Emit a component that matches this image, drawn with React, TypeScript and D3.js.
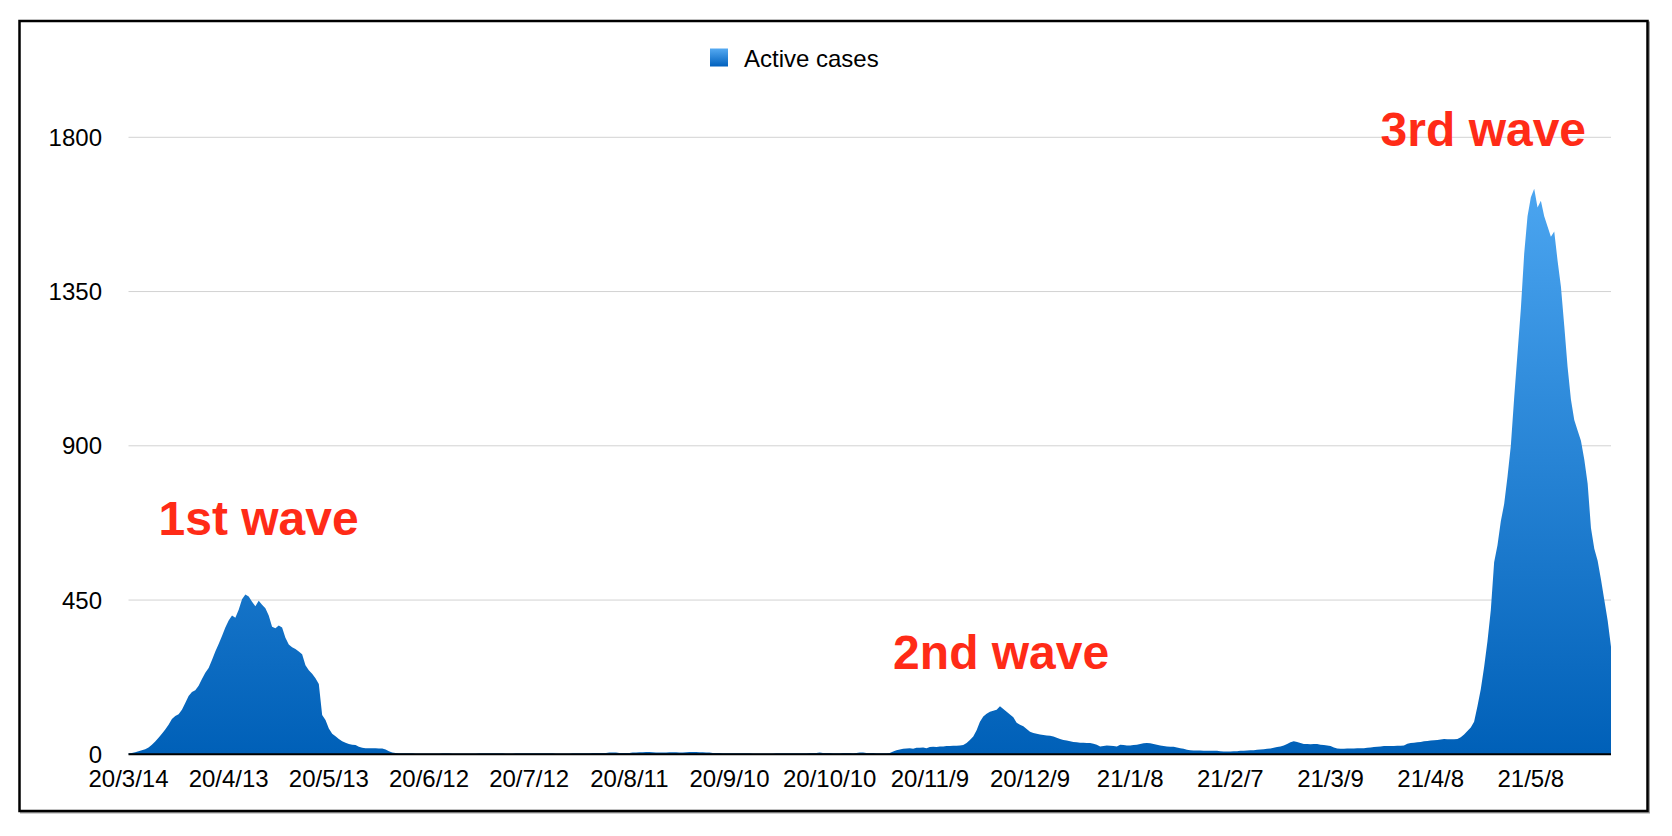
import React from 'react';
import * as d3 from 'd3';

// daily active cases, starting 2020-03-14
const startDate = '2020-03-14';
const activeCases: number[] = [
  2, 4, 6, 9, 12, 15, 20, 28, 37, 48,
  60, 72, 86, 103, 112, 117, 130, 150, 170, 182,
  187, 200, 220, 238, 252, 275, 300, 322, 345, 370,
  390, 405, 398, 422, 452, 466, 460, 445, 432, 448,
  436, 426, 405, 372, 368, 376, 370, 340, 320, 312,
  307, 300, 292, 260, 245, 235, 222, 205, 115, 100,
  75, 60, 53, 45, 38, 34, 30, 28, 27, 22,
  19, 18, 18, 18, 18, 17, 17, 14, 9, 5,
  4, 3, 3, 3, 3, 3, 2, 2, 2, 2,
  2, 2, 2, 2, 3, 3, 3, 2, 2, 2,
  2, 2, 2, 2, 2, 3, 3, 3, 3, 3,
  3, 3, 3, 2, 2, 2, 3, 3, 3, 3,
  3, 3, 3, 3, 3, 3, 3, 3, 2, 2,
  2, 2, 2, 3, 3, 3, 3, 3, 3, 4,
  4, 4, 4, 4, 5, 5, 5, 4, 4, 4,
  4, 5, 5, 6, 6, 7, 7, 6, 5, 5,
  5, 5, 6, 6, 6, 5, 5, 6, 7, 7,
  7, 6, 6, 5, 5, 4, 4, 4, 3, 3,
  3, 3, 3, 3, 3, 3, 3, 2, 2, 2,
  2, 2, 2, 2, 3, 3, 3, 3, 3, 3,
  3, 3, 3, 3, 4, 4, 4, 5, 4, 4,
  4, 3, 3, 3, 4, 4, 4, 3, 4, 5,
  5, 4, 4, 4, 3, 3, 3, 3, 4, 8,
  12, 14, 16, 17, 18, 16, 19, 19, 20, 18,
  21, 22, 21, 23, 23, 24, 24, 25, 25, 26,
  27, 33, 42, 52, 70, 95, 110, 118, 124, 127,
  130, 140, 132, 124, 116, 108, 92, 86, 82, 74,
  66, 62, 60, 58, 56, 55, 54, 52, 48, 45,
  42, 40, 38, 36, 35, 34, 34, 33, 33, 31,
  28, 23, 24, 26, 25, 24, 23, 28, 27, 26,
  26, 27, 28, 30, 32, 33, 32, 30, 28, 26,
  24, 23, 22, 22, 20, 18, 16, 13, 12, 11,
  11, 11, 10, 10, 10, 10, 10, 9, 8, 8,
  8, 9, 9, 10, 10, 11, 12, 12, 13, 14,
  15, 16, 17, 19, 21, 23, 26, 30, 35, 38,
  36, 33, 30, 30, 29, 30, 30, 28, 27, 26,
  24, 20, 17, 16, 16, 17, 17, 17, 18, 18,
  18, 19, 20, 21, 22, 23, 24, 24, 24, 24,
  25, 25, 26, 31, 33, 34, 35, 36, 38, 39,
  40, 41, 42, 43, 45, 44, 44, 44, 45, 50,
  58, 68, 78, 95, 140, 190, 255, 330, 420, 560,
  610, 680, 730, 810, 900, 1040, 1170, 1300, 1460, 1570,
  1625, 1650, 1595, 1615, 1570, 1540, 1510, 1525, 1440, 1365,
  1250, 1130, 1035, 975, 945, 915, 860, 790, 660, 600,
  565, 510, 450, 390, 314,
];

const xTickLabels = [
  '20/3/14', '20/4/13', '20/5/13', '20/6/12', '20/7/12', '20/8/11', '20/9/10',
  '20/10/10', '20/11/9', '20/12/9', '21/1/8', '21/2/7', '21/3/9', '21/4/8', '21/5/8',
];
const yTicks = [0, 450, 900, 1350, 1800];

const waveLabels = [
  { text: '1st wave', date: '20/3/23', value: 640 },
  { text: '2nd wave', date: '20/10/29', value: 250 },
  { text: '3rd wave', date: '21/3/24', value: 1774 },
];

const seriesName = 'Active cases';

const W = 1672;
const H = 836;
const FONT = '"Liberation Sans", Arial, Helvetica, sans-serif';

const parseLabel = (s: string) => {
  const [y, m, d] = s.split('/').map(Number);
  return new Date(Date.UTC(2000 + y, m - 1, d));
};

const App: React.FC = () => {
  const start = new Date(startDate + 'T00:00:00Z');
  const dates = activeCases.map((_, i) => d3.utcDay.offset(start, i));

  const x = d3.scaleUtc()
    .domain([dates[0], dates[dates.length - 1]])
    .range([128.5, 1611]);
  const y = d3.scaleLinear().domain([0, 1800]).range([754.3, 137.3]);

  const area = d3.area<number>()
    .x((_, i) => x(dates[i]))
    .y0(y(0))
    .y1(d => y(d));

  return (
    <svg width={W} height={H} style={{ position: 'absolute', left: 0, top: 0, background: '#fff' }}
      fontFamily={FONT}>
      <defs>
        <linearGradient id="areaGrad" gradientUnits="userSpaceOnUse" x1="0" y1={y(0)} x2="0" y2={y(1650)}>
          <stop offset="0" stopColor="#0060b8" />
          <stop offset="1" stopColor="#4ba5f0" />
        </linearGradient>
        <linearGradient id="legendGrad" x1="0" y1="0" x2="0" y2="1">
          <stop offset="0" stopColor="#55aaf2" />
          <stop offset="1" stopColor="#0060bd" />
        </linearGradient>
      </defs>

      {/* frame */}
      <rect x={21} y={22.5} width={1628} height={790} fill="none" stroke="#a0a0a0" strokeWidth={2} />
      <rect x={19.5} y={21} width={1628} height={790} fill="#fff" stroke="#000" strokeWidth={2.5} />

      {/* grid */}
      {yTicks.filter(t => t > 0).map(t => (
        <line key={t} x1={128.5} x2={1611} y1={y(t)} y2={y(t)} stroke="#d2d2d2" strokeWidth={1} />
      ))}
      {yTicks.map(t => (
        <text key={t} x={102} y={y(t)} dy="0.36em" textAnchor="end" fontSize={24} fill="#000">{t}</text>
      ))}

      <path d={area(activeCases) || ''} fill="url(#areaGrad)" />
      <line x1={128.5} x2={1611} y1={y(0)} y2={y(0)} stroke="#000" strokeWidth={2} />

      {xTickLabels.map(l => (
        <text key={l} x={x(parseLabel(l))} y={787} textAnchor="middle" fontSize={24} fill="#000">{l}</text>
      ))}

      {/* legend */}
      <rect x={710} y={48.5} width={18} height={18} fill="url(#legendGrad)" />
      <text x={744} y={66.5} fontSize={24} fill="#000">{seriesName}</text>

      {/* annotations */}
      {waveLabels.map(w => (
        <text key={w.text} x={x(parseLabel(w.date))} y={y(w.value)} fontSize={48} fontWeight="bold" fill="#ff2b17">
          {w.text}
        </text>
      ))}
    </svg>
  );
};

export default App;
